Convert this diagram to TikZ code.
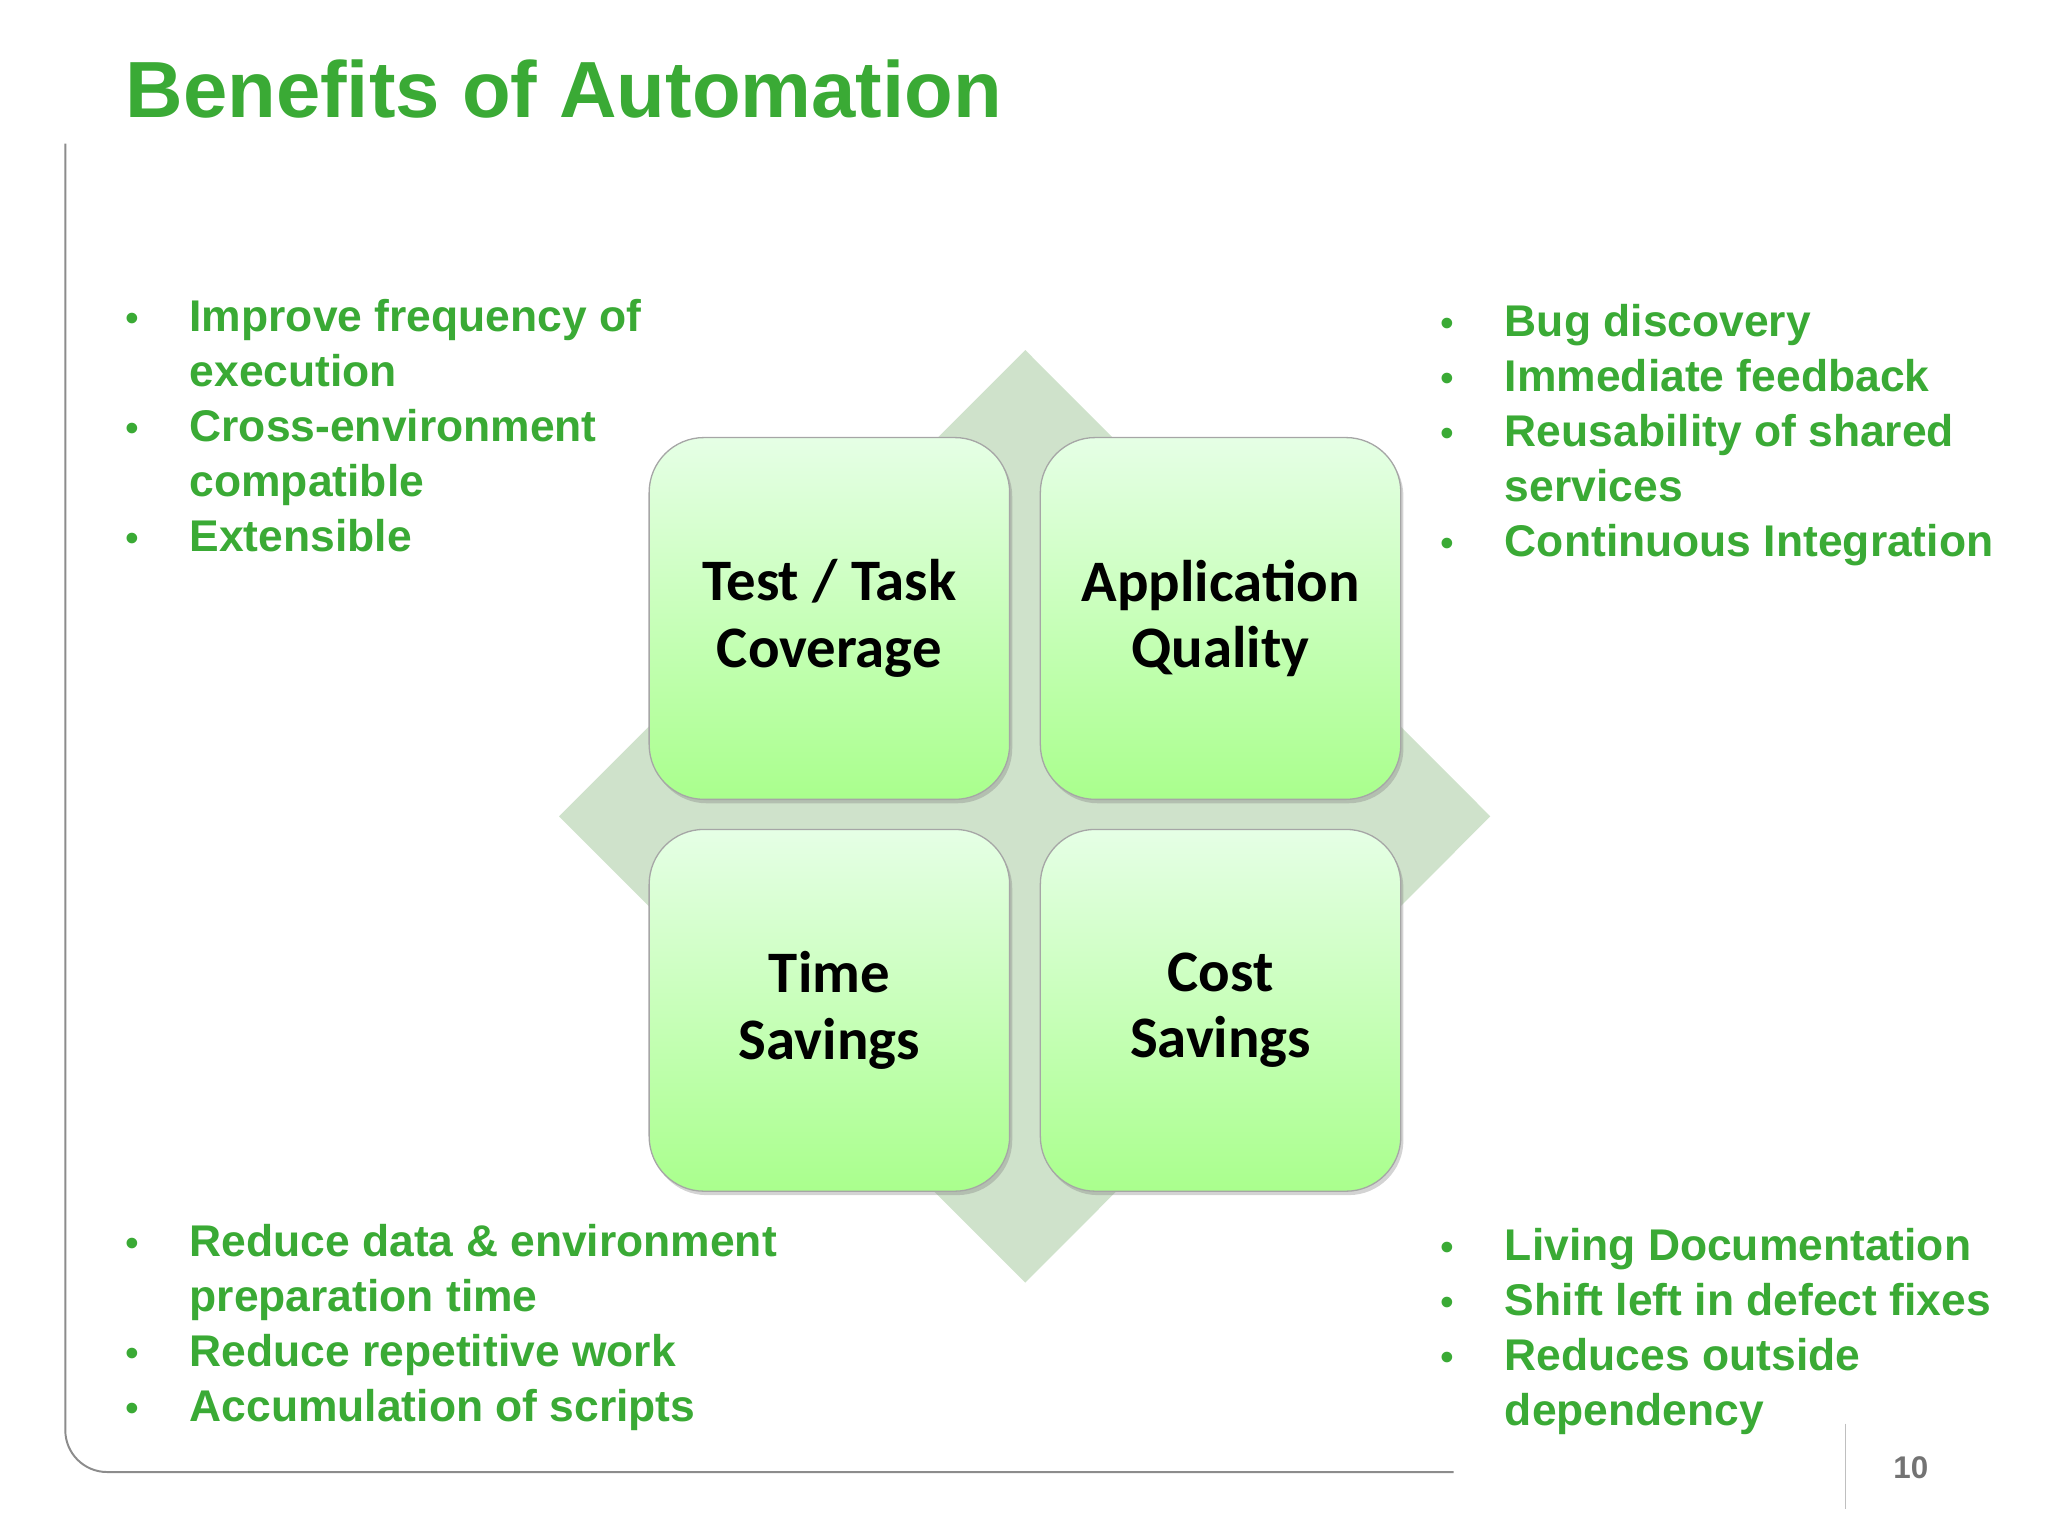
\documentclass[tikz,border=0pt]{standalone}
\usepackage{fontspec}
\setmainfont{Liberation Sans}
\newfontfamily\boxfont{Carlito}
\usetikzlibrary{shadows}
\definecolor{ttl}{HTML}{3AAA35}
\definecolor{dia}{HTML}{CFE2CB}
\definecolor{frm}{HTML}{8C8C8C}
\tikzset{
 bl/.style={anchor=base west,inner sep=0,text=ttl,font=\fontsize{34}{34}\selectfont\bfseries},
 bb/.style={anchor=base,inner sep=0,text=ttl,font=\fontsize{30}{30}\selectfont},
 qbox/.style={draw=black!35,line width=1pt,rounded corners=42pt,minimum width=276pt,minimum height=277pt,
   top color=green!10!white,bottom color=green!35!white!85!lime,shading angle=0,
   drop shadow={shadow xshift=2pt,shadow yshift=-3pt,opacity=0.35},
   font=\boxfont\fontsize{45}{51}\selectfont\bfseries,align=center,text=black}
}
\begin{document}
\begin{tikzpicture}[x=1pt,y=-1pt]
\useasboundingbox (0,0) rectangle (1568,1176);
\node[anchor=base west,inner sep=0,text=ttl,font=\fontsize{61}{61}\selectfont\bfseries] (title) at (96,90) {Benefits of Automation};
\draw[frm,line width=1.5pt,rounded corners=32pt] (50,110) -- (50,1127) -- (1113,1127);
\draw[black!25,line width=1pt] (1413,1090) -- (1413,1155);
\node[anchor=center,text=black!55,font=\fontsize{24}{24}\selectfont\bfseries] (pg) at (1463,1124) {10};
\fill[dia] (785,268) -- (1141,625) -- (785,982) -- (428,625) -- cycle;
\node[qbox] (tl) at (635,473.5) {Test / Task\\Coverage};
\node[qbox] (tr) at (934.5,473.5) {Application\\Quality};
\node[qbox] (bl) at (635,773.5) {Time\\Savings};
\node[qbox] (br) at (934.5,773.5) {Cost\\Savings};
% left top
\foreach \y in {254,338,422} \node[bb] at (101,\y) {•};
\node[bl] (a1) at (145,254) {Improve frequency of};
\node[bl] (a2) at (145,296) {execution};
\node[bl] (a3) at (145,338) {Cross-environment};
\node[bl] (a4) at (145,380) {compatible};
\node[bl] (a5) at (145,422) {Extensible};
% right top
\foreach \y in {258,300,342,426} \node[bb] at (1108,\y) {•};
\node[bl] (b1) at (1152,258) {Bug discovery};
\node[bl] (b2) at (1152,300) {Immediate feedback};
\node[bl] (b3) at (1152,342) {Reusability of shared};
\node[bl] (b4) at (1152,384) {services};
\node[bl] (b5) at (1152,426) {Continuous Integration};
% left bottom
\foreach \y in {962,1046,1088} \node[bb] at (101,\y) {•};
\node[bl] (c1) at (145,962) {Reduce data \& environment};
\node[bl] (c2) at (145,1004) {preparation time};
\node[bl] (c3) at (145,1046) {Reduce repetitive work};
\node[bl] (c4) at (145,1088) {Accumulation of scripts};
% right bottom
\foreach \y in {965,1007,1049} \node[bb] at (1108,\y) {•};
\node[bl] (d1) at (1152,965) {Living Documentation};
\node[bl] (d2) at (1152,1007) {Shift left in defect fixes};
\node[bl] (d3) at (1152,1049) {Reduces outside};
\node[bl] (d4) at (1152,1091) {dependency};
\end{tikzpicture}
\end{document}
